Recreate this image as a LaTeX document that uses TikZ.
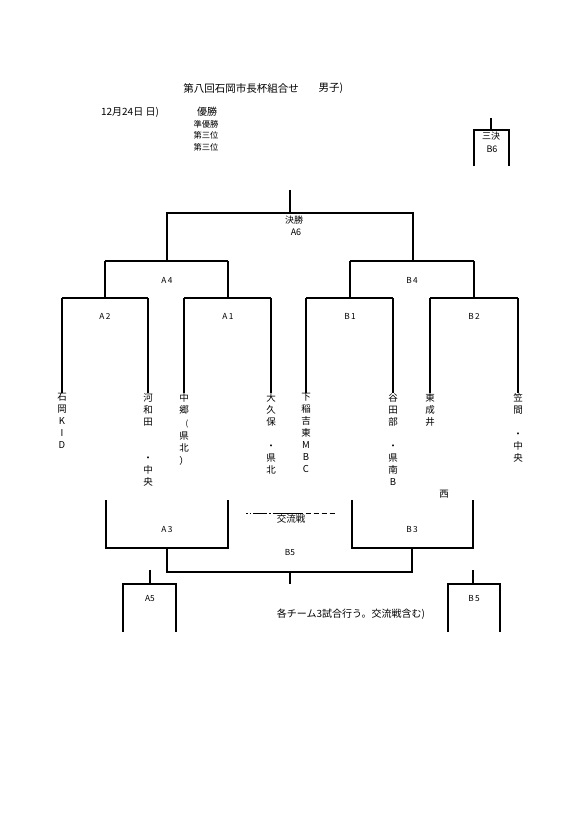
\documentclass[tikz,border=0pt]{standalone}
\usepackage{fontspec}
\setmainfont{Noto Sans CJK JP}
\begin{document}
\begin{tikzpicture}[x=1pt,y=-1pt,
  line width=1.1pt,
  txt/.style={inner sep=0pt, font=\fontsize{9}{11}\selectfont},
  lab/.style={inner sep=0pt, font=\fontsize{8.3}{10}\selectfont},
  leaf/.style={anchor=north, align=center, inner sep=0pt, font=\fontsize{9.5}{12}\selectfont},
  brk/.style={line width=1.1pt, line join=miter}]
\useasboundingbox (0,0) rectangle (580,820);
\fill[white] (0,0) rectangle (580,820);

% ---- header texts
\node[inner sep=0pt, font=\fontsize{10.5}{12}\selectfont] (title) at (241,88) {第八回石岡市長杯組合せ};
\node[inner sep=0pt, font=\fontsize{10.5}{12}\selectfont] (title2) at (331,88) {男子)};
\node[inner sep=0pt, font=\fontsize{10}{12}\selectfont] (date) at (130,112) {12月24日 日)};
\node[inner sep=0pt, font=\fontsize{10}{12}\selectfont] (win) at (207,112) {優勝};
\node[inner sep=0pt, font=\fontsize{8.3}{10}\selectfont] (second) at (206,124) {準優勝};
\node[inner sep=0pt, font=\fontsize{8.3}{10}\selectfont] (third1) at (206,135) {第三位};
\node[inner sep=0pt, font=\fontsize{8.3}{10}\selectfont] (third2) at (206,147) {第三位};

% ---- third place box
\coordinate (t6top) at (491,118);
\coordinate (t6m) at (491,130);
\coordinate (t6l) at (474,130);
\coordinate (t6r) at (509,130);
\coordinate (t6lb) at (474,166);
\coordinate (t6rb) at (509,166);
\draw[brk] (t6top) -- (t6m);
\draw[brk] (t6lb) -- (t6l) -- (t6r) -- (t6rb);
\node[txt] (sanketsu) at (491,136) {三決};
\node[txt] (b6) at (492,149) {B6};

% ---- final
\coordinate (ftop) at (290,190);
\coordinate (fmid) at (290,213);
\coordinate (fl) at (167,213);
\coordinate (fr) at (413,213);
\draw[brk] (ftop) -- (fmid);
\node[txt] (kessho) at (294,220) {決勝};
\node[txt] (a6) at (296,232) {A6};

% ---- A4 / B4
\coordinate (a4m) at (167,261);
\coordinate (a4l) at (105,261);
\coordinate (a4r) at (228,261);
\coordinate (b4m) at (413,261);
\coordinate (b4l) at (350,261);
\coordinate (b4r) at (474,261);
\draw[brk] (a4m) -- (fl) -- (fr) -- (b4m);
\draw[brk] (a4l) -- (a4r);
\draw[brk] (b4l) -- (b4r);
\node[lab] (la4) at (167,280) {A\,4};
\node[lab] (lb4) at (412,280) {B\,4};

% ---- first round
\coordinate (a2m) at (105,298);
\coordinate (a1m) at (228,298);
\coordinate (b1m) at (350,298);
\coordinate (b2m) at (474,298);
\draw[brk] (a4l) -- (a2m);
\draw[brk] (a4r) -- (a1m);
\draw[brk] (b4l) -- (b1m);
\draw[brk] (b4r) -- (b2m);
\coordinate (p1) at (62,298);
\coordinate (p2) at (148,298);
\coordinate (p3) at (184,298);
\coordinate (p4) at (271,298);
\coordinate (p5) at (306,298);
\coordinate (p6) at (393,298);
\coordinate (p7) at (430,298);
\coordinate (p8) at (518,298);
\draw[brk] (p1) -- (p2);
\draw[brk] (p3) -- (p4);
\draw[brk] (p5) -- (p6);
\draw[brk] (p7) -- (p8);
\node[lab] (la2) at (105,316) {A\,2};
\node[lab] (la1) at (228,316) {A\,1};
\node[lab] (lb1) at (350,316) {B\,1};
\node[lab] (lb2) at (474,316) {B\,2};

% ---- teams (vertical text)
\node[leaf] (t1) at (62,393) {石\\岡\\K\\I\\D};
\node[leaf] (t2) at (148,393) {河\\和\\田\\[24pt]・\\中\\央};
\node[leaf] (t3) at (184,393) {中\\郷\\[14pt]県\\北\\[1pt]）};
\node[inner sep=0pt, font=\fontsize{8}{10}\selectfont] (t3p) at (187,424.5) {(};
\node[leaf] (t4) at (271,393) {大\\久\\保\\[12pt]・\\県\\北};
\node[leaf] (t5) at (306,393) {下\\稲\\吉\\東\\M\\B\\C};
\node[leaf] (t6) at (393,393) {谷\\田\\部\\[12pt]・\\県\\南\\B};
\node[leaf] (t7) at (430,393) {東\\成\\井};
\node[leaf] (t8) at (518,393) {笠\\間\\[12pt]・\\中\\央};
\node[txt, font=\fontsize{9.5}{12}\selectfont] (nishi) at (444,494) {西};
\draw[brk] (p1) -- (t1.north);
\draw[brk] (p2) -- (t2.north);
\draw[brk] (p3) -- (t3.north);
\draw[brk] (p4) -- (t4.north);
\draw[brk] (p5) -- (t5.north);
\draw[brk] (p6) -- (t6.north);
\draw[brk] (p7) -- (t7.north);
\draw[brk] (p8) -- (t8.north);

% ---- exchange matches
\coordinate (kl) at (246,513);
\coordinate (kr) at (335,513);
\draw[line width=0.9pt, dash pattern=on 1.5pt off 2pt on 1.5pt off 2pt on 14pt off 2pt on 1.5pt off 2pt on 30pt off 3pt on 5pt off 3pt on 5pt off 3pt on 5pt off 3pt on 5pt] (kl) -- (kr);
\node[txt, font=\fontsize{9.5}{12}\selectfont] (koryu) at (291,519) {交流戦};

% A3 / B3
\coordinate (a3lt) at (106,500);
\coordinate (a3lb) at (106,548);
\coordinate (a3rb) at (228,548);
\coordinate (a3rt) at (228,500);
\coordinate (a3m) at (167,548);
\draw[brk] (a3lt) -- (a3lb) -- (a3rb) -- (a3rt);
\node[lab] (la3) at (167,530) {A\,3};
\coordinate (b3lt) at (352,500);
\coordinate (b3lb) at (352,548);
\coordinate (b3rb) at (473,548);
\coordinate (b3rt) at (473,500);
\coordinate (b3m) at (412,548);
\draw[brk] (b3lt) -- (b3lb) -- (b3rb) -- (b3rt);
\node[lab] (lb3) at (412,530) {B\,3};

\coordinate (cl) at (167,572);
\coordinate (cr) at (412,572);
\coordinate (cm) at (290,572);
\coordinate (cb) at (290,584);
\draw[brk] (a3m) -- (cl) -- (cr) -- (b3m);
\draw[brk] (cm) -- (cb);
\node[lab] (le5) at (290,553) {B5};

% A5 box
\coordinate (a5t) at (150,570);
\coordinate (a5m) at (150,584);
\coordinate (a5l) at (123,584);
\coordinate (a5r) at (176,584);
\coordinate (a5lb) at (123,632);
\coordinate (a5rb) at (176,632);
\draw[brk] (a5t) -- (a5m);
\draw[brk] (a5lb) -- (a5l) -- (a5r) -- (a5rb);
\node[lab] (la5) at (150,599) {A5};

% B5 box
\coordinate (b5t) at (473,570);
\coordinate (b5m) at (473,584);
\coordinate (b5l) at (448,584);
\coordinate (b5r) at (500,584);
\coordinate (b5lb) at (448,632);
\coordinate (b5rb) at (500,632);
\draw[brk] (b5t) -- (b5m);
\draw[brk] (b5lb) -- (b5l) -- (b5r) -- (b5rb);
\node[lab] (lb5) at (474,599) {B\,5};

\node[inner sep=0pt, font=\fontsize{10}{12}\selectfont] (note) at (351,614) {各チーム3試合行う。交流戦含む)};
\end{tikzpicture}
\end{document}
